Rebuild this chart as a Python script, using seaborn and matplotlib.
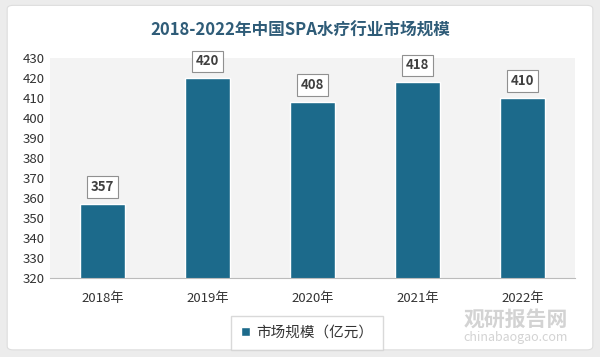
import matplotlib
matplotlib.use("Agg")
import matplotlib.pyplot as plt
import seaborn as sns
import pandas as pd
from matplotlib.patches import FancyBboxPatch

years = ["2018年", "2019年", "2020年", "2021年", "2022年"]
values = [357, 420, 408, 418, 410]
series_name = "市场规模（亿元）"
title = "2018-2022年中国SPA水疗行业市场规模"

df = pd.DataFrame({"year": years, "value": values, "series": series_name})

sns.set_style("white")
plt.rcParams['font.family'] = ['Noto Sans CJK SC', 'DejaVu Sans']

fig = plt.figure(figsize=(6, 3.57), dpi=100)
fig.patch.set_facecolor("#ececec")

# white card behind everything
card = FancyBboxPatch((0.012, 0.02), 0.976, 0.965, boxstyle="round,pad=0,rounding_size=0.01",
                      transform=fig.transFigure, facecolor="white", edgecolor="#dddddd",
                      lw=0.8, zorder=-10)
fig.patches.append(card)

ax = fig.add_axes([0.083, 0.222, 0.875, 0.615])
ax.set_facecolor("#f3f3f3")

sns.barplot(data=df, x="year", y="value", hue="series", palette=["#1c6a8b"],
            saturation=1, width=0.43, ax=ax)
ax.set_ylim(320, 430)
ax.set_yticks(range(320, 431, 10))
ax.set_xlabel("")
ax.set_ylabel("")
ax.tick_params(axis="both", length=0, labelsize=9.5, colors="#333333")
ax.tick_params(axis="x", pad=10)
for s in ["top", "right", "left"]:
    ax.spines[s].set_visible(False)
ax.spines["bottom"].set_color("#bbbbbb")

for bar, v in zip(ax.patches, values):
    x = bar.get_x() + bar.get_width() / 2
    ax.annotate(str(v), (x, v), xytext=(0, 12), textcoords="offset points",
                ha="center", va="center", fontsize=9.5, fontweight="bold", color="#404040",
                bbox=dict(boxstyle="square,pad=0.3", fc="white", ec="#909090", lw=0.8))

leg = ax.legend(loc="upper center", bbox_to_anchor=(0.49, -0.14), frameon=True,
                fontsize=10.5, handlelength=0.6, handleheight=0.6, borderpad=0.7,
                handletextpad=0.4, fancybox=False, edgecolor="#d0d0d0")
for t in leg.get_texts():
    t.set_color("#333333")

fig.text(0.5, 0.915, title, ha="center", va="center", fontsize=12,
         fontweight="bold", color="#2f5c78")

# watermark
fig.text(0.86, 0.105, "观研报告网", ha="center", va="center", fontsize=15,
         fontweight="bold", color="#c8c8c8", alpha=0.8)
fig.text(0.86, 0.055, "chinabaogao.com", ha="center", va="center", fontsize=9,
         color="#c8c8c8", alpha=0.8)

fig.savefig("out.png", dpi=100, facecolor=fig.get_facecolor())
